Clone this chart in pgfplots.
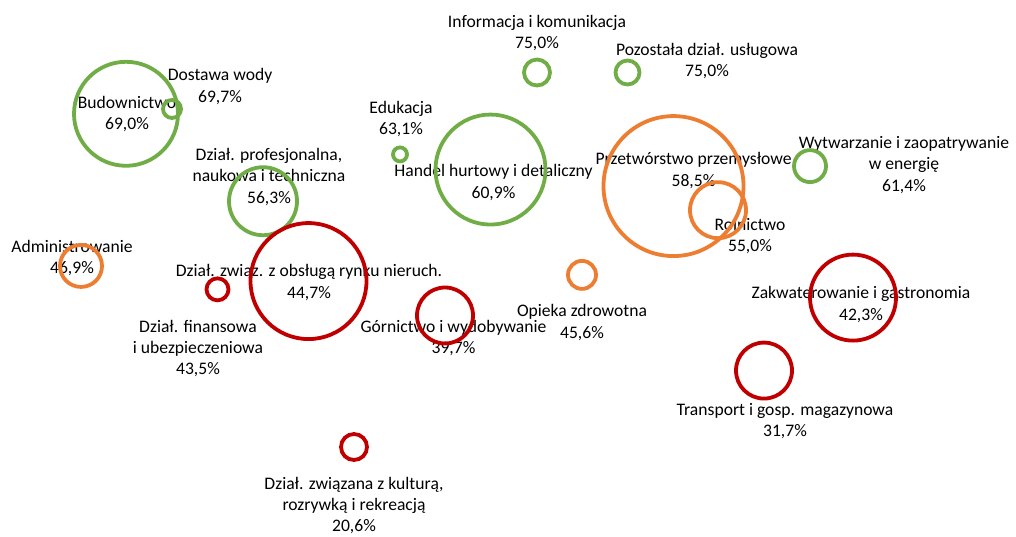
\documentclass[border=0pt]{standalone}
\usepackage{pgfplots}
\pgfplotsset{compat=1.18}
\usepackage{fontspec}
\setmainfont{Carlito}
\definecolor{cgreen}{HTML}{70AD47}
\definecolor{corange}{HTML}{ED7D31}
\definecolor{cred}{HTML}{C00000}
\newcommand\lbl{\fontsize{8.8}{10.6}\selectfont}
\tikzset{lab/.style={align=center, font=\lbl, text=black}}
\pgfplotsset{
  bub/.style={only marks, mark=o, line width=1.9pt, scatter,
    scatter/use mapped color={draw=#1, fill=none},
    visualization depends on={0.5*\thisrow{r} \as \rad},
    scatter/@pre marker code/.append style={/tikz/mark size=\rad}},
}
\begin{document}
\begin{tikzpicture}
\begin{axis}[
  scale only axis, width=508pt, height=268pt,
  xmin=0, xmax=1016, ymin=7.67, ymax=85.53,
  hide axis, clip=false,
]
% green: x (px), y (%), r (px)
\addplot[bub=cgreen] table {
x y r
126 69.0 52
172 69.7 9
537 75.0 13
627.5 75.0 12
400 63.1 7
490.5 60.9 55
810 61.4 16
263 56.3 34
};
% orange
\addplot[bub=corange] table {
x y r
673.5 58.5 70
718 55.0 28
81 46.9 21
582 45.6 14
};
% red
\addplot[bub=cred] table {
x y r
308.5 44.7 58
217.5 43.5 11
445 39.7 28
853 42.3 43
764 31.7 28
354 20.6 13
};
\node[lab] at (axis cs:537,80.74) {Informacja i komunikacja\\75,0\%};
\node[lab] at (axis cs:707,76.67) {Pozostała dział. usługowa\\75,0\%};
\node[lab] at (axis cs:220,72.97) {Dostawa wody\\69,7\%};
\node[lab] at (axis cs:127,68.97) {Budownictwo\\69,0\%};
\node[lab] at (axis cs:269,59.82) {Dział. profesjonalna,\\naukowa i techniczna\\56,3\%};
\node[lab] at (axis cs:401,68.24) {Edukacja\\63,1\%};
\node[lab] at (axis cs:493.5,59.02) {Handel hurtowy i detaliczny\\60,9\%};
\node[lab] at (axis cs:693.5,60.76) {Przetwórstwo przemysłowe\\58,5\%};
\node[lab] at (axis cs:750,51.25) {Rolnictwo\\55,0\%};
\node[lab] at (axis cs:904,61.56) {Wytwarzanie i zaopatrywanie\\w energię\\61,4\%};
\node[lab] at (axis cs:72,48.05) {Administrowanie\\46,9\%};
\node[lab] at (axis cs:309,44.49) {Dział. związ. z obsługą rynku nieruch.\\44,7\%};
\node[lab] at (axis cs:198,34.91) {Dział. finansowa\\i ubezpieczeniowa\\43,5\%};
\node[lab] at (axis cs:453.5,36.43) {Górnictwo i wydobywanie\\39,7\%};
\node[lab] at (axis cs:582,38.68) {Opieka zdrowotna\\45,6\%};
\node[lab] at (axis cs:861,41.30) {Zakwaterowanie i gastronomia\\42,3\%};
\node[lab] at (axis cs:785,24.38) {Transport i gosp. magazynowa\\31,7\%};
\node[lab] at (axis cs:354,12.10) {Dział. związana z kulturą,\\rozrywką i rekreacją\\20,6\%};
\end{axis}
\pgfresetboundingbox
\path (current axis.south west) rectangle (current axis.north east);
\end{tikzpicture}
\end{document}
